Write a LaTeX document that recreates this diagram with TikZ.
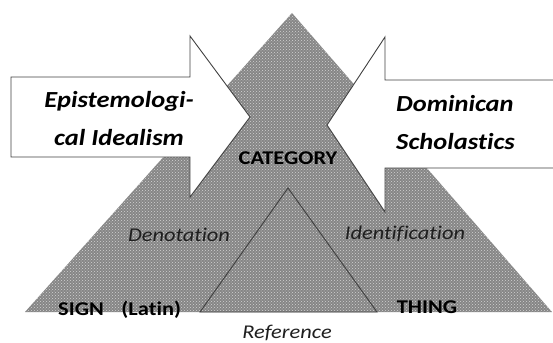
\documentclass[tikz,border=0pt]{standalone}
\usepackage{fontspec}
\setmainfont{Carlito}[FakeStretch=1.15, Ligatures=NoCommon]
\usetikzlibrary{patterns}

\begin{document}
\begin{tikzpicture}[x=1pt, y=-1pt,
    stipple/.style={preaction={fill=gray!95}, pattern=crosshatch dots, pattern color=gray!35},
    arrowbox/.style={fill=white, draw=black!75, line width=0.9pt, line join=miter},
    school/.style={font=\fontsize{23}{26}\selectfont\bfseries\itshape, text=black, inner sep=0pt},
    corner/.style={font=\fontsize{19.5}{22}\selectfont\bfseries, text=black, inner sep=0pt},
    relation/.style={font=\fontsize{19.5}{22}\selectfont\itshape, text=black!88, inner sep=0pt}]
    \useasboundingbox (0,0) rectangle (553,342);
    % the two triangles
    \coordinate (top) at (292,13);
    \coordinate (sign) at (25,312);
    \coordinate (thing) at (552,312);
    \fill[stipple] (top) -- (thing) -- (sign) -- cycle;
    \draw[stipple, draw=black!75, line width=0.9pt] (288,188) -- (377,312) -- (200,312) -- cycle;
    % the two block arrows
    \draw[arrowbox] (11,77) -- (190,77) -- (190,36) -- (250,117) -- (190,197) -- (190,157) -- (11,157) -- cycle;
    \draw[arrowbox] (560,80) -- (385,80) -- (385,37) -- (327,125) -- (385,212) -- (385,168) -- (560,168);
    % labels
    \node[school] (ideal) at (119,101) {Epistemologi-};
    \node[school] (ideal2) at (119,138) {cal Idealism};
    \node[school, anchor=west] (domin) at (396,104) {Dominican};
    \node[school, anchor=west] (domin2) at (396,142) {Scholastics};
    \node[corner] (category) at (288,158) {CATEGORY};
    \node[relation] (denot) at (179,235) {Denotation};
    \node[relation] (ident) at (405,234) {Identification};
    \node[corner, anchor=west] (signlbl) at (58,310) {SIGN\hspace{0.9em}(Latin)};
    \node[corner] (thinglbl) at (427,307) {THING};
    \node[relation] (refer) at (287,333) {Reference};
\end{tikzpicture}
\end{document}
